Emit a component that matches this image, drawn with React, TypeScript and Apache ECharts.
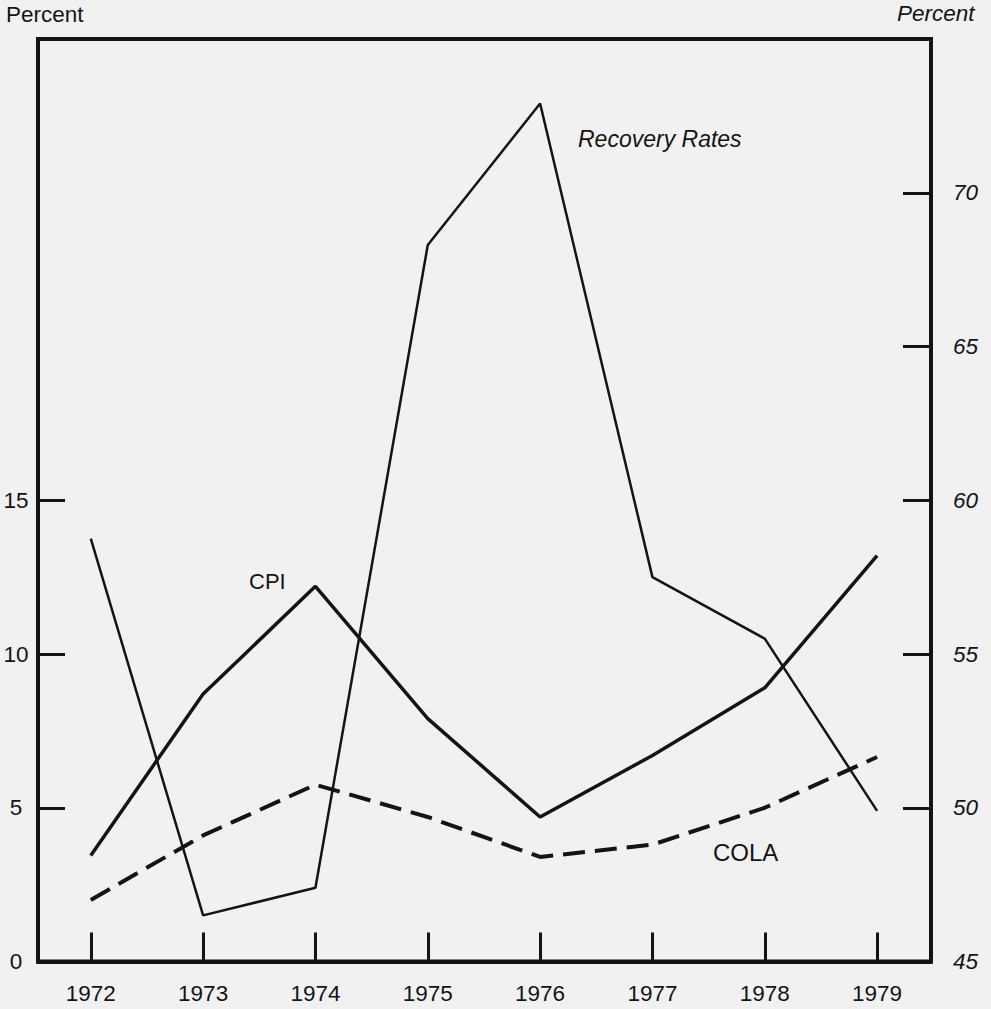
import React, { useEffect, useRef } from "react";
import * as echarts from "echarts";

const years = [1972, 1973, 1974, 1975, 1976, 1977, 1978, 1979];
const cpi = [3.45, 8.7, 12.2, 7.9, 4.7, 6.7, 8.9, 13.2];
const cola = [2.0, 4.1, 5.75, 4.7, 3.4, 3.8, 5.0, 6.65];
const recoveryRates = [58.75, 46.5, 47.4, 68.3, 72.9, 57.5, 55.5, 49.9];

const leftTickLabels = [0, 5, 10, 15];
const leftTicks = [5, 10, 15];
const rightTickLabels = [45, 50, 55, 60, 65, 70];
const rightTicks = [50, 55, 60, 65, 70];

const INK = "#141414";
const FONT = "'Liberation Sans', Arial, Helvetica, sans-serif";

export default function App() {
  const ref = useRef<HTMLDivElement>(null);

  useEffect(() => {
    if (!ref.current) return;
    const chart = echarts.init(ref.current, undefined, { renderer: "svg" });
    const pair = (vals: number[]) => years.map((y, i) => [y, vals[i]]);
    chart.setOption({
      animation: false,
      backgroundColor: "#f1f1f1",
      textStyle: { fontFamily: FONT, color: INK },
      grid: {
        left: 38,
        right: 60,
        top: 39,
        bottom: 47.5,
        show: true,
        borderColor: INK,
        borderWidth: 4,
        backgroundColor: "transparent",
      },
      xAxis: {
        type: "value",
        min: 1971.53,
        max: 1979.48,
        splitLine: { show: false },
        axisLine: { show: true, lineStyle: { color: INK, width: 4 } },
        axisTick: {
          show: true,
          inside: true,
          length: 29,
          customValues: years,
          lineStyle: { color: INK, width: 3 },
        },
        axisLabel: {
          customValues: years,
          margin: 20,
          fontSize: 22.5,
          color: INK,
          fontFamily: FONT,
          formatter: (v: number) => String(Math.round(v)),
        },
      },
      yAxis: [
        {
          type: "value",
          position: "left",
          min: 0,
          max: 30,
          splitLine: { show: false },
          axisLine: { show: true, lineStyle: { color: INK, width: 4 } },
          axisTick: {
            show: true,
            inside: true,
            length: 27,
            customValues: leftTicks,
            lineStyle: { color: INK, width: 3 },
          },
          axisLabel: {
            customValues: leftTickLabels,
            align: "center",
            margin: 22,
            fontSize: 22.5,
            color: INK,
            fontFamily: FONT,
          },
        },
        {
          type: "value",
          position: "right",
          min: 45,
          max: 75,
          splitLine: { show: false },
          axisLine: { show: true, lineStyle: { color: INK, width: 4 } },
          axisTick: {
            show: true,
            inside: true,
            length: 28,
            customValues: rightTicks,
            lineStyle: { color: INK, width: 3 },
          },
          axisLabel: {
            customValues: rightTickLabels,
            align: "left",
            margin: 22,
            fontSize: 22.5,
            fontStyle: "italic",
            color: INK,
            fontFamily: FONT,
          },
        },
      ],
      series: [
        {
          name: "CPI",
          type: "line",
          yAxisIndex: 0,
          data: pair(cpi),
          symbol: "none",
          lineStyle: { color: INK, width: 3.5 },
          z: 3,
        },
        {
          name: "COLA",
          type: "line",
          yAxisIndex: 0,
          data: pair(cola),
          symbol: "none",
          lineStyle: { color: INK, width: 4, type: [22, 10] },
          z: 3,
        },
        {
          name: "Recovery Rates",
          type: "line",
          yAxisIndex: 1,
          data: pair(recoveryRates),
          symbol: "none",
          lineStyle: { color: INK, width: 2.5 },
          z: 3,
        },
      ],
      graphic: [
        {
          type: "text",
          left: 6,
          top: 3,
          style: { text: "Percent", fontSize: 22.5, fontFamily: FONT, fill: INK },
        },
        {
          type: "text",
          left: 897,
          top: 2,
          style: { text: "Percent", fontSize: 22.5, fontStyle: "italic", fontFamily: FONT, fill: INK },
        },
        {
          type: "text",
          left: 249,
          top: 570,
          style: { text: "CPI", fontSize: 22, fontFamily: FONT, fill: INK },
        },
        {
          type: "text",
          left: 713,
          top: 840,
          style: { text: "COLA", fontSize: 24, fontFamily: FONT, fill: INK },
        },
        {
          type: "text",
          left: 578,
          top: 127,
          style: { text: "Recovery Rates", fontSize: 23, fontStyle: "italic", fontFamily: FONT, fill: INK },
        },
      ],
    });
    return () => chart.dispose();
  }, []);

  return (
    <div
      ref={ref}
      style={{ position: "fixed", left: 0, top: 0, width: 991, height: 1009 }}
    />
  );
}
